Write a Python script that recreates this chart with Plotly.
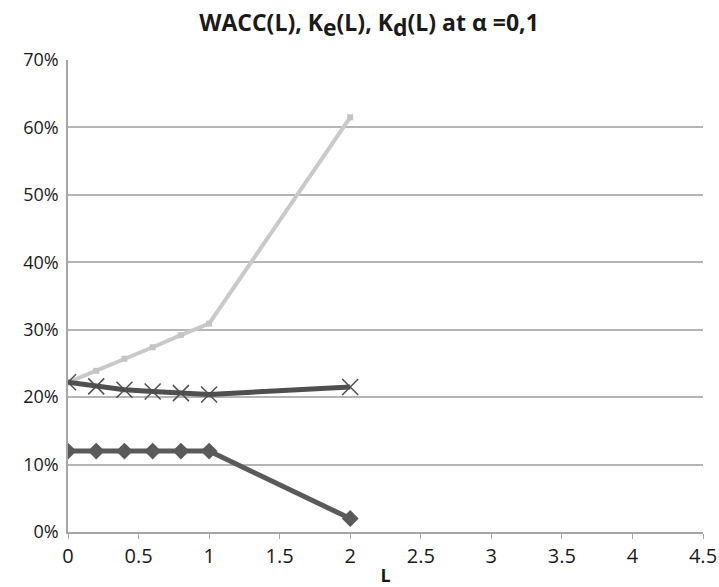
import plotly.graph_objects as go

L = [0, 0.2, 0.4, 0.6, 0.8, 1.0, 2.0]
wacc = [0.222, 0.216, 0.211, 0.2085, 0.206, 0.204, 0.215]
ke = [0.222, 0.239, 0.257, 0.274, 0.292, 0.309, 0.615]
kd = [0.12, 0.12, 0.12, 0.12, 0.12, 0.12, 0.02]

x_ticks = [0, 0.5, 1, 1.5, 2, 2.5, 3, 3.5, 4, 4.5]
x_tick_labels = ["0", "0.5", "1", "1.5", "2", "2.5", "3", "3.5", "4", "4.5"]
y_ticks = [0, 0.1, 0.2, 0.3, 0.4, 0.5, 0.6, 0.7]
y_tick_labels = ["0%", "10%", "20%", "30%", "40%", "50%", "60%", "70%"]

fig = go.Figure()
fig.add_trace(go.Scatter(
    x=L, y=ke, mode="lines+markers", name="Ke(L)",
    line=dict(color="#c9c9c9", width=4),
    marker=dict(symbol="square", size=6, color="#c4c4c4"),
))
fig.add_trace(go.Scatter(
    x=L, y=wacc, mode="lines+markers", name="WACC(L)",
    line=dict(color="#4f4f4f", width=5),
    marker=dict(symbol="x-thin-open", size=16, line=dict(color="#666666", width=1.5)),
))
fig.add_trace(go.Scatter(
    x=L, y=kd, mode="lines+markers", name="Kd(L)",
    line=dict(color="#5a5a5a", width=5),
    marker=dict(symbol="diamond", size=13, color="#5a5a5a"),
))

font_family = "Open Sans, Noto Sans, sans-serif"
sub_style = '<span style="font-size:23px">'
title_text = ("<b>WACC(L), K<sub>" + sub_style + "e</span></sub>(L), K<sub>" + sub_style +
              "d</span></sub>(L) at α =0,1</b>")

fig.update_layout(
    width=719, height=587,
    margin=dict(l=68, r=16, t=60, b=55, autoexpand=False),
    paper_bgcolor="white", plot_bgcolor="white",
    showlegend=False,
    title=dict(
        text=title_text,
        x=369 / 719, xanchor="center", xref="container",
        y=1 - 23 / 587, yanchor="middle", yref="container",
        font=dict(family=font_family, size=23, color="#1a1a1a"),
    ),
    font=dict(family=font_family, size=18, color="#1a1a1a"),
)
fig.update_xaxes(
    range=[0, 4.5], tickvals=x_ticks, ticktext=x_tick_labels,
    showgrid=False, zeroline=False, automargin=False,
    showline=True, linecolor="#a6a6a6", linewidth=1.5,
    ticks="outside", ticklen=5, tickcolor="#a6a6a6", tickwidth=1.2,
    tickfont=dict(family=font_family, size=20, color="#1a1a1a"),
    title=dict(text="<b>L</b>", font=dict(family=font_family, size=18, color="#1a1a1a"), standoff=11),
)
fig.update_yaxes(
    range=[0, 0.7], tickvals=y_ticks, ticktext=y_tick_labels,
    showgrid=True, gridcolor="#b5b5b5", gridwidth=1.5,
    zeroline=False, automargin=False,
    showline=True, linecolor="#a6a6a6", linewidth=1.5,
    ticks="", ticklabelstandoff=4,
    tickfont=dict(family=font_family, size=18, color="#1a1a1a"),
)

fig.write_html("out.html", config={"displayModeBar": False},
               post_script="document.body.style.margin='0';")
